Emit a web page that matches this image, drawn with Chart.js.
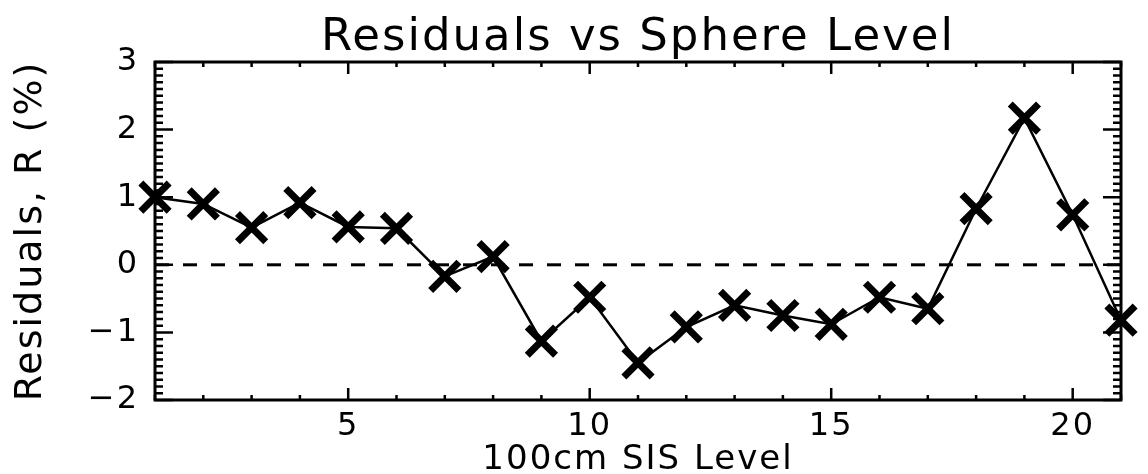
<!DOCTYPE html>
<html>
<head>
<meta charset="utf-8">
<script src="https://cdn.jsdelivr.net/npm/chart.js@4.4.1/dist/chart.umd.min.js"></script>
<style>
html,body{margin:0;padding:0;background:#fff;}
#wrap{width:1148px;height:474px;}
</style>
</head>
<body>
<div id="wrap"><canvas id="residChart" width="1148" height="474"></canvas></div>
<script>

/* ---------- DATA ---------- */

const levels = [1,2,3,4,5,6,7,8,9,10,11,12,13,14,15,16,17,18,19,20,21];
const residuals = [1.0,0.9,0.55,0.92,0.56,0.54,-0.17,0.12,-1.13,-0.48,-1.45,-0.92,-0.6,-0.75,-0.88,-0.48,-0.65,0.83,2.17,0.74,-0.82];
const zeroX = [1,21];
const zeroY = [0,0];
const xTickValues = [5,10,15,20];
const yTickValues = [-2,-1,0,1,2,3];

const FONT = "DejaVu Sans";


/* ---------- FRAME + INWARD TICKS (IDL style) ---------- */

const axisFrame = {
id:"axisFrame",
beforeDraw(chart){
chart.ctx.letterSpacing = "2px";
},
beforeDatasetsDraw(chart){

const {ctx, chartArea:a, scales:{x,y}} = chart;
ctx.save();
ctx.strokeStyle = "#000";
ctx.lineWidth = 3;
ctx.strokeRect(a.left, a.top, a.right-a.left, a.bottom-a.top);

ctx.lineWidth = 2.5;
ctx.beginPath();

// y minor every 0.1, major every 1
for(let i=0;i<=50;i++){
let v = y.min + i*0.1;
let py = y.getPixelForValue(v);
let len = (i%10===0) ? 18 : 8;
ctx.moveTo(a.left, py); ctx.lineTo(a.left+len, py);
ctx.moveTo(a.right, py); ctx.lineTo(a.right-len, py);
}

// x minor every 1, major every 5
for(let v=Math.ceil(x.min); v<=x.max; v++){
let px = x.getPixelForValue(v);
let len = (v%5===0) ? 12 : 5;
ctx.moveTo(px, a.top); ctx.lineTo(px, a.top+len);
ctx.moveTo(px, a.bottom); ctx.lineTo(px, a.bottom-len);
}

ctx.stroke();
ctx.restore();
}
};


/* ---------- CHART ---------- */

const ctx = document.getElementById("residChart").getContext("2d");

new Chart(ctx,{
type:"line",

data:{
datasets:[
{
label:"Residuals",
data:levels.map((v,i)=>({x:v, y:residuals[i]})),
borderColor:"#000",
borderWidth:2.5,
pointStyle:"crossRot",
pointRadius:20,
pointBorderWidth:7,
pointBorderColor:"#000",
pointBackgroundColor:"#000",
tension:0,
clip:false
},
{
label:"Zero",
data:zeroX.map((v,i)=>({x:v, y:zeroY[i]})),
borderColor:"#000",
borderWidth:3,
borderDash:[14,14],
pointRadius:0,
tension:0
}
]
},

plugins:[axisFrame],

options:{
responsive:false,
animation:false,
devicePixelRatio:1,
layout:{padding:{left:0, right:8, top:0, bottom:0}},

plugins:{
legend:{display:false},
tooltip:{enabled:false},
title:{
display:true,
fullSize:false,
text:"Residuals vs Sphere Level",
color:"#000",
font:{family:FONT, size:45, weight:"normal", lineHeight:1.0},
padding:{top:16, bottom:1}
}
},

scales:{
x:{
type:"linear",
min:1, max:21,
afterBuildTicks(s){ s.ticks = xTickValues.map(v=>({value:v})) },
afterFit(s){ s.height = 74 },
grid:{display:false, drawTicks:false},
border:{display:false},
ticks:{color:"#000", font:{family:FONT, size:32}, padding:7, maxRotation:0, autoSkip:false},
title:{display:true, text:"100cm SIS Level", color:"#000",
font:{family:FONT, size:34, lineHeight:0.8}, padding:0}
},

y:{
type:"linear",
min:-2, max:3,
afterBuildTicks(s){ s.ticks = yTickValues.map(v=>({value:v})) },
afterFit(s){ s.width = 155 },
grid:{display:false, drawTicks:false},
border:{display:false},
ticks:{color:"#000", font:{family:FONT, size:32}, padding:16,
callback:v => String(v).replace("-","\u2212")},
title:{display:true, text:"Residuals, R (%)", color:"#000",
font:{family:FONT, size:38, lineHeight:1}, padding:{top:12, bottom:0}}
}
}
}

})

</script>
</body>
</html>
